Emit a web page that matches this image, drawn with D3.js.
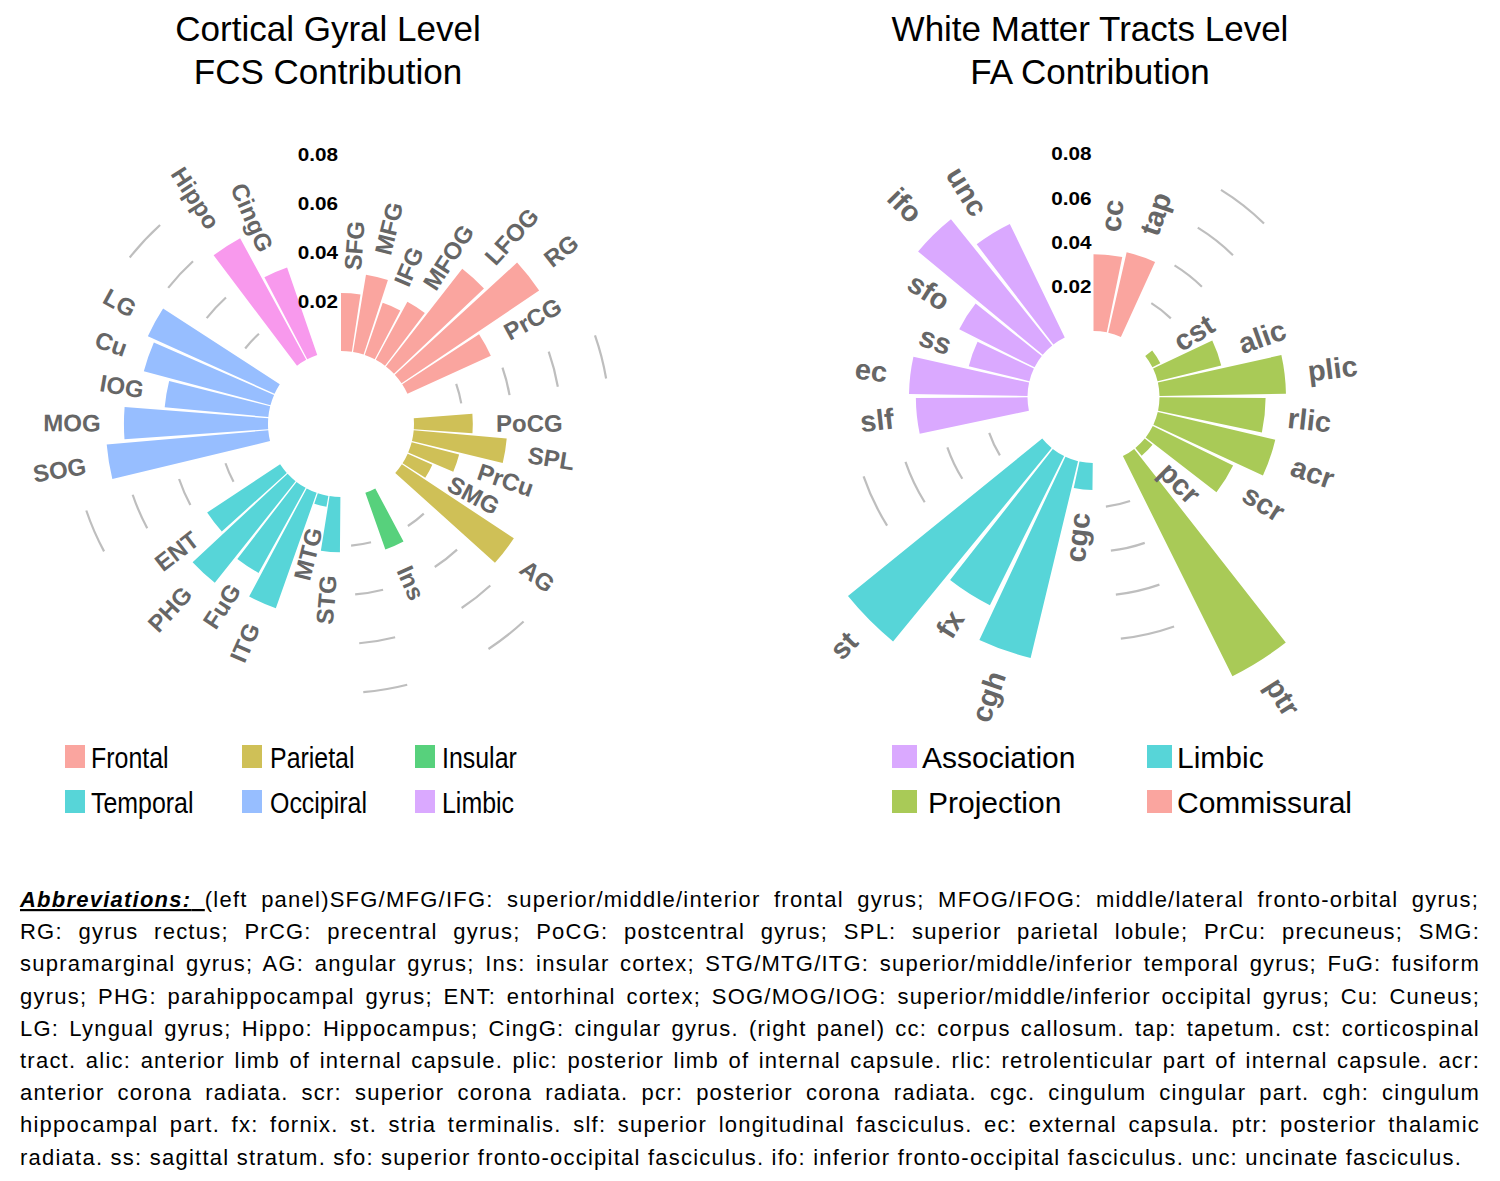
<!DOCTYPE html>
<html><head><meta charset="utf-8">
<script src="https://cdn.jsdelivr.net/npm/d3@7"></script>
<style>
body{margin:0;background:#fff;}
svg{display:block;font-family:"Liberation Sans",Arial,Helvetica,sans-serif;}
</style>
</head><body>
<svg id="chart" width="1500" height="1181"></svg>
<script>
// ---------------- DATA ----------------
const leftGroups = ["Frontal","Parietal","Insular","Temporal","Occipital","Limbic"];
const leftLabels = ["SFG","MFG","IFG","MFOG","LFOG","RG","PrCG",
                    "PoCG","SPL","PrCu","SMG","AG",
                    "Ins",
                    "STG","MTG","ITG","FuG","PHG","ENT",
                    "SOG","MOG","IOG","Cu","LG",
                    "Hippo","CingG"];
const leftGroupIdx = [0,0,0,0,0,0,0, 1,1,1,1,1, 2, 3,3,3,3,3,3, 4,4,4,4,4, 5,5];
const leftValues = [0.0237,0.0320,0.0225,0.0270,0.0506,0.0677,0.0374,
                    0.0240,0.0381,0.0200,0.0110,0.0548,
                    0.0245,
                    0.0226,0.0045,0.0500,0.0397,0.0530,0.0357,
                    0.0662,0.0588,0.0425,0.0535,0.0568,
                    0.0565,0.0378];

const rightGroups = ["Commissural","Projection","Limbic","Association"];
const rightLabels = ["cc","tap",
                     "cst","alic","plic","rlic","acr","scr","pcr","ptr",
                     "cgc","cgh","fx","st",
                     "slf","ec","ss","sfo","ifo","unc"];
const rightGroupIdx = [0,0, 1,1,1,1,1,1,1,1, 2,2,2,2, 3,3,3,3,3,3];
const rightValues = [0.0347,0.0372,
                     0.0040,0.0296,0.0571,0.0479,0.0545,0.0404,0.0045,0.1110,
                     0.0122,0.0914,0.0752,0.1129,
                     0.0504,0.0535,0.0282,0.0381,0.0731,0.0570];

const tickValues = [0.02,0.04,0.06,0.08];
const tickLabels = ["0.02","0.04","0.06","0.08"];

const leftLegendRows = [["Frontal","Parietal","Insular"],["Temporal","Occipiral","Limbic"]];
const rightLegendRows = [["Association","Limbic"],["Projection","Commissural"]];

const abbrevLines = [
 "(left panel)SFG/MFG/IFG: superior/middle/interior frontal gyrus; MFOG/IFOG: middle/lateral fronto-orbital gyrus;",
 "RG: gyrus rectus; PrCG: precentral gyrus; PoCG: postcentral gyrus; SPL: superior parietal lobule; PrCu: precuneus; SMG:",
 "supramarginal gyrus; AG: angular gyrus; Ins: insular cortex; STG/MTG/ITG: superior/middle/inferior temporal gyrus; FuG: fusiform",
 "gyrus; PHG: parahippocampal gyrus; ENT: entorhinal cortex; SOG/MOG/IOG: superior/middle/inferior occipital gyrus; Cu: Cuneus;",
 "LG: Lyngual gyrus; Hippo: Hippocampus; CingG: cingular gyrus. (right panel) cc: corpus callosum. tap: tapetum. cst: corticospinal",
 "tract. alic: anterior limb of internal capsule. plic: posterior limb of internal capsule. rlic: retrolenticular part of internal capsule. acr:",
 "anterior corona radiata. scr: superior corona radiata. pcr: posterior corona radiata. cgc. cingulum cingular part. cgh: cingulum",
 "hippocampal part. fx: fornix. st. stria terminalis. slf: superior longitudinal fasciculus. ec: external capsula. ptr: posterior thalamic",
 "radiata. ss: sagittal stratum. sfo: superior fronto-occipital fasciculus. ifo: inferior fronto-occipital fasciculus. unc: uncinate fasciculus."
];

// ---------------- STYLE ----------------
const fade = c => d3.interpolateRgb("#ffffff", c)(0.66);
const leftColors  = ["#F8766D","#B79F00","#00BA38","#00BFC4","#619CFF","#F564E3"].map(fade);
const leftLegendColors = ["#F8766D","#B79F00","#00BA38","#00BFC4","#619CFF","#C77CFF"].map(fade);
const rightColors = ["#F8766D","#7CAE00","#00BFC4","#C77CFF"].map(fade);
const rightLegendColors = [rightColors[3], rightColors[2], rightColors[1], rightColors[0]];

const svg = d3.select("#chart");

function drawPanel(cfg){
  const g = svg.append("g").attr("transform", `translate(${cfg.cx},${cfg.cy})`);
  const empty = 2;
  const ids = []; let id = 0; let prev = null;
  const groupStart = {};
  cfg.groupIdx.forEach((gi,i)=>{
    id += (prev !== null && gi !== prev) ? 1 + empty : 1;
    if (groupStart[gi] === undefined) groupStart[gi] = id;
    ids.push(id); prev = gi;
  });
  const N = id + empty;
  const ang = d3.scaleLinear().domain([0.55, N + 0.45]).range([0, 2*Math.PI]);
  const rad = d3.scaleLinear().domain([0, 0.08]).range([cfg.r0, cfg.r08]);

  // grid arcs in the gaps between groups
  const firstGroup = cfg.groupIdx[0];
  Object.keys(groupStart).map(Number).filter(gi => gi !== firstGroup).forEach(gi=>{
    const s = groupStart[gi];
    tickValues.forEach(v=>{
      const p = d3.path();
      p.arc(0,0,rad(v), ang(s-2)-Math.PI/2, ang(s-1)-Math.PI/2);
      g.append("path").attr("d", p.toString()).attr("fill","none")
        .attr("stroke","#BEBEBE").attr("stroke-width",2.2);
    });
  });

  // bars
  const arc = d3.arc();
  cfg.values.forEach((v,i)=>{
    g.append("path").attr("d", arc({innerRadius: rad(0), outerRadius: rad(v),
        startAngle: ang(ids[i]-0.45), endAngle: ang(ids[i]+0.45)}))
      .attr("fill", cfg.colors[cfg.groupIdx[i]]);
  });

  // tick labels
  tickValues.forEach((v,k)=>{
    g.append("text").attr("transform", `translate(${-cfg.tickDx},${-rad(v)}) scale(1.15,1)`)
      .attr("text-anchor","end").attr("dominant-baseline","central")
      .attr("font-size", 18).attr("font-weight","bold").attr("fill","#000")
      .text(tickLabels[k]);
  });

  // bar labels
  cfg.values.forEach((v,i)=>{
    const th = ang(ids[i]);
    const deg = th*180/Math.PI;
    const rr = rad(v + cfg.labelOff);
    const x = rr*Math.sin(th), y = -rr*Math.cos(th);
    const flip = (ids[i]-0.5)/N > 0.5;
    const rot = flip ? deg - 270 : deg - 90;
    g.append("text").attr("transform", `translate(${x},${y}) rotate(${rot})`)
      .attr("text-anchor", flip ? "end" : "start").attr("dominant-baseline","central")
      .attr("font-size", cfg.fontSize).attr("font-weight","bold").attr("fill","#666666")
      .text(cfg.labels[i]);
  });
}

drawPanel({cx:341, cy:424, r0:73, r08:269, labels:leftLabels, groupIdx:leftGroupIdx,
  values:leftValues, colors:leftColors, fontSize:24, labelOff:0.0095, tickDx:3});
drawPanel({cx:1093.5, cy:397, r0:66, r08:243.2, labels:rightLabels, groupIdx:rightGroupIdx,
  values:rightValues, colors:rightColors, fontSize:29, labelOff:0.0105, tickDx:2});

// titles
[[328,["Cortical Gyral Level","FCS Contribution"]],[1090,["White Matter Tracts Level","FA Contribution"]]]
.forEach(([x,lines])=>{
  lines.forEach((t,k)=>{
    svg.append("text").attr("x",x).attr("y",41+k*43).attr("text-anchor","middle")
      .attr("font-size",35).attr("fill","#000").text(t);
  });
});

// legends
function legend(rows, colors, sqX, txtX, sqW, rowY, fs, sx){
  let k = 0;
  rows.forEach((row,ri)=>{
    row.forEach((name,ci)=>{
      svg.append("rect").attr("x",sqX[ci]).attr("y",rowY[ri]).attr("width",sqW).attr("height",23)
        .attr("fill",colors[k]);
      svg.append("text").attr("transform",`translate(${txtX[ri][ci]},${rowY[ri]+23}) scale(${sx},1)`)
        .attr("font-size",fs).attr("fill","#000").text(name);
      k++;
    });
  });
}
legend(leftLegendRows, leftLegendColors, [65,242,415], [[91,270,442],[91,270,442]], 20, [745,790], 29, 0.86);
legend(rightLegendRows, rightLegendColors, [892,1147], [[922,1177],[928,1177]], 25, [745,790], 30, 1);

// abbreviations (justified)
const x0 = 20, x1 = 1480, base0 = 907, lh = 32.2, afs = 22;
const probe = svg.append("text").attr("font-size",afs).text(abbrevLines[abbrevLines.length-1]);
const lastLen = probe.node().getBBox().width;
probe.remove();
const ls = Math.max(0, (1442 - lastLen) / abbrevLines[abbrevLines.length-1].length);
abbrevLines.forEach((line,i)=>{
  const t = svg.append("text").attr("x",x0).attr("y",base0+i*lh).attr("font-size",afs)
    .attr("fill","#000");
  if (i===0){
    t.append("tspan").attr("font-weight","bold").attr("font-style","italic")
      .attr("text-decoration","underline").text("Abbreviations:");
    t.append("tspan").attr("text-decoration","underline").text("\u00a0");
    t.append("tspan").text(line);
  } else t.text(line);
  let lsi = ls, ws = 0;
  const chars = (i===0 ? 15 : 0) + line.length;
  const nSp = (line.match(/ /g)||[]).length;
  t.selectAll("tspan").attr("letter-spacing", lsi);
  t.attr("letter-spacing", lsi);
  if (i < abbrevLines.length-1){
    const target = x1 - x0;
    for (let it=0; it<4; it++){
      const w = t.node().getBBox().width;
      if (Math.abs(w-target) < 0.5) break;
      if (w > target && ws <= 0.01){ lsi -= (w-target)/chars; }
      else { ws = Math.max(0, ws + (target-w)/nSp); }
      t.attr("letter-spacing", lsi).attr("word-spacing", ws);
      t.selectAll("tspan").attr("letter-spacing", lsi).attr("word-spacing", ws);
    }
  }
});
</script>
</body></html>
